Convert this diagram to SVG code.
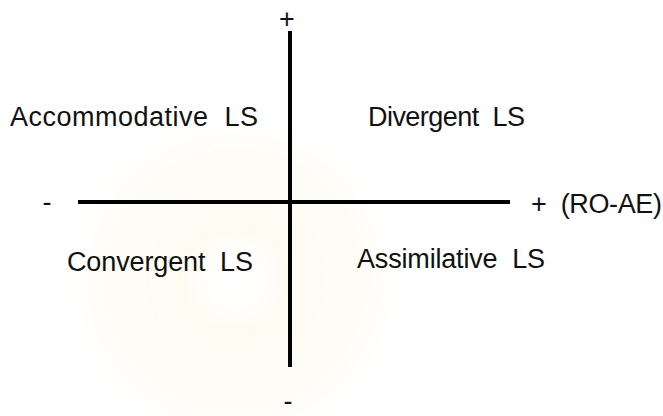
<svg xmlns="http://www.w3.org/2000/svg" width="663" height="416" viewBox="0 0 663 416">
  <style>
    .lbl { font-family: "Liberation Sans", Arial, sans-serif; font-size: 27px; fill: #111; }
    .axis { stroke: #000; stroke-width: 4; fill: none; }
  </style>
  <defs>
    <radialGradient id="wm" cx="0.5" cy="0.5" r="0.5">
      <stop offset="0" stop-color="#ffffff" stop-opacity="0"/>
      <stop offset="0.3" stop-color="#fbf7e6" stop-opacity="0.55"/>
      <stop offset="0.8" stop-color="#fcf9ee" stop-opacity="0.4"/>
      <stop offset="1" stop-color="#ffffff" stop-opacity="0"/>
    </radialGradient>
  </defs>
  <rect width="663" height="416" fill="#fff"/>
  <g id="watermark">
    <circle cx="235" cy="280" r="175" fill="url(#wm)"/>
  </g>
  <g id="connectors">
    <line class="axis" x1="290" y1="31" x2="290" y2="367"/>
    <line class="axis" x1="78" y1="202" x2="510" y2="202"/>
  </g>
  <g id="axis-labels">
    <text class="lbl" x="287" y="28" text-anchor="middle">+</text>
    <text class="lbl" x="288" y="410" text-anchor="middle">-</text>
    <text class="lbl" x="47" y="211" text-anchor="middle">-</text>
    <text class="lbl" x="531" y="213" textLength="131" xml:space="preserve">+  (RO-AE)</text>
  </g>
  <g id="accommodative">
    <text class="lbl" x="10" y="126" textLength="248" xml:space="preserve">Accommodative  LS</text>
  </g>
  <g id="divergent">
    <text class="lbl" x="368" y="126" textLength="157" xml:space="preserve">Divergent  LS</text>
  </g>
  <g id="convergent">
    <text class="lbl" x="67" y="271" textLength="186" xml:space="preserve">Convergent  LS</text>
  </g>
  <g id="assimilative">
    <text class="lbl" x="357" y="268" textLength="188" xml:space="preserve">Assimilative  LS</text>
  </g>
</svg>
